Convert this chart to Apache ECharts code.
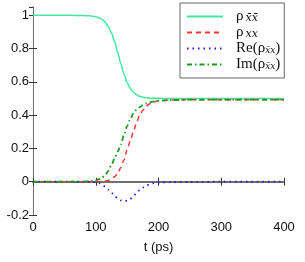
<!DOCTYPE html>
<html><head><meta charset="utf-8">
<script src="https://cdn.jsdelivr.net/npm/echarts@6/dist/echarts.min.js"></script>
<style>html,body{margin:0;padding:0;background:#fff}#c{width:305px;height:262px}</style>
</head><body><div id="c"></div>
<script>
const times = [0,60,80,90,100,105,110,115,120,125,130,135,140,145,150,155,160,165,170,175,180,190,200,220,250,300,350,400];
const rhoBB = [1,1,0.999,0.997,0.992,0.986,0.976,0.959,0.933,0.895,0.842,0.777,0.709,0.647,0.597,0.56,0.537,0.522,0.513,0.508,0.505,0.502,0.501,0.5,0.5,0.5,0.5,0.5];
const rhoXX = [0,0,0,0,0.001,0.001,0.002,0.004,0.008,0.015,0.03,0.05,0.085,0.13,0.19,0.245,0.3,0.355,0.4,0.43,0.455,0.477,0.486,0.491,0.493,0.493,0.493,0.493];
const reRho = [0,0,0,0,-0.003,-0.008,-0.016,-0.03,-0.048,-0.066,-0.085,-0.1,-0.112,-0.117,-0.114,-0.103,-0.086,-0.067,-0.05,-0.035,-0.022,-0.01,-0.005,-0.002,-0.001,0,0,0];
const imRho = [0,0,0.001,0.003,0.008,0.015,0.025,0.04,0.065,0.1,0.14,0.18,0.225,0.28,0.335,0.375,0.41,0.432,0.448,0.46,0.47,0.481,0.487,0.491,0.493,0.493,0.493,0.493];
const xTicks = [0,100,200,300,400];
const yTicks = [-0.2,0,0.2,0.4,0.6,0.8,1];
const legendLabels = {
  rbb: '{p|ρ}{s|x\u0304x\u0304}',
  rxx: '{p|ρ}{s|xx}',
  re: '{p|Re(ρ}{t|x\u0304x}{p|)}',
  im: '{p|Im(ρ}{t|x\u0304x}{p|)}'
};
const pair = a => a.map((v,i)=>[times[i], v]);
const chart = echarts.init(document.getElementById('c'));
const axisCol = '#707070';
const lbl = {color:'#111', fontFamily:'Liberation Sans, Arial, sans-serif', fontSize:13};
const serif = 'DejaVu Serif, Liberation Serif, serif';
chart.setOption({
  animation:false,
  grid:{left:33, right:21, top:7, bottom:47},
  xAxis:[{type:'value', min:0, max:400, interval:100, position:'bottom',
    axisLine:{lineStyle:{color:axisCol, width:1}}, axisTick:{inside:true, length:4, lineStyle:{color:'#333'}},
    splitLine:{show:false}, axisLabel:Object.assign({margin:6}, lbl),
    name:'t (ps)', nameLocation:'middle', nameGap:26, nameTextStyle:lbl},
    {type:'value', min:0, max:400, interval:100, position:'top',
    axisLine:{lineStyle:{color:axisCol, width:2}}, axisTick:{inside:true, length:4, lineStyle:{color:'#333'}},
    splitLine:{show:false}, axisLabel:{show:false}}],
  yAxis:[{type:'value', min:-0.2, max:1.05, interval:0.2, position:'left',
    axisLine:{show:true, lineStyle:{color:axisCol, width:1}}, axisTick:{show:true, inside:true, length:4, lineStyle:{color:'#333'}},
    splitLine:{show:false}, axisLabel:Object.assign({margin:4, showMaxLabel:false, formatter:v=>yTicks.some(t=>Math.abs(t-v)<1e-6)?String(+v.toFixed(1)):''}, lbl)},
    {type:'value', min:-0.2, max:1.05, interval:0.2, position:'right',
    axisLine:{show:true, lineStyle:{color:axisCol, width:1}}, axisTick:{show:true, inside:true, length:4, lineStyle:{color:'#333'}},
    splitLine:{show:false}, axisLabel:{show:false}}],
  legend:{left:180, top:3, width:101, height:69, orient:'vertical', padding:[6,4,6,6], itemGap:1,
    backgroundColor:'#fff', borderColor:'#666', borderWidth:1,
    itemWidth:36, itemHeight:14, itemStyle:{opacity:0},
    data:['rbb','rxx','re','im'],
    formatter:n=>legendLabels[n],
    textStyle:{padding:[0,0,0,8], rich:{
      p:{fontFamily:'Liberation Serif, Times New Roman, serif', fontSize:15, color:'#111'},
      s:{fontFamily:serif, fontSize:11, fontStyle:'italic', color:'#111', padding:[3,0,0,2]},
      t:{fontFamily:serif, fontSize:9, fontStyle:'italic', color:'#111', padding:[4,0,0,0]}
    }}},
  series:[
    {name:'rbb', type:'line', data:pair(rhoBB), showSymbol:false, symbol:'none', smooth:0.3, smoothMonotone:'x', lineStyle:{color:'#40e8a0', width:1.5}, itemStyle:{color:'#40e8a0'}},
    {name:'rxx', type:'line', data:pair(rhoXX), showSymbol:false, symbol:'none', smooth:0.3, smoothMonotone:'x', lineStyle:{color:'#ff3333', width:1.5, type:[5,4]}, itemStyle:{color:'#ff3333'}},
    {name:'re', type:'line', data:pair(reRho), showSymbol:false, symbol:'none', smooth:0.3, smoothMonotone:'x', lineStyle:{color:'#1a1aff', width:1.8, type:[1.5,4]}, itemStyle:{color:'#1a1aff'}},
    {name:'im', type:'line', data:pair(imRho), showSymbol:false, symbol:'none', smooth:0.3, smoothMonotone:'x', lineStyle:{color:'#1a9a1a', width:1.8, type:[5,3,1.5,3]}, itemStyle:{color:'#1a9a1a'}}
  ]
});
</script></body></html>
